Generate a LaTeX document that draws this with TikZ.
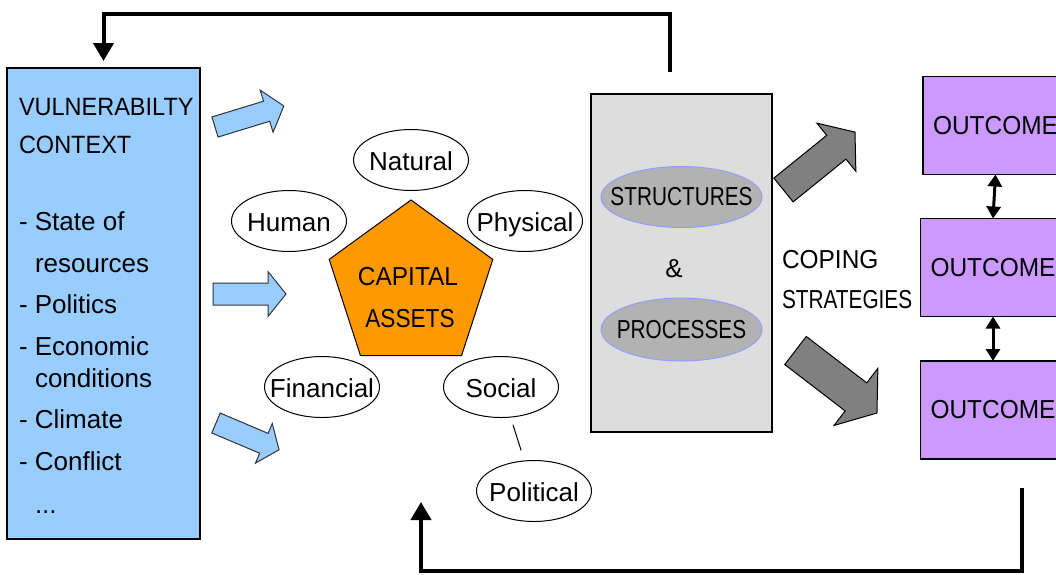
\documentclass[tikz,border=0pt]{standalone}
\usepackage{fontspec}
\setmainfont{Liberation Sans}
\newfontfamily\capsnarrow[FakeStretch=0.8]{Liberation Sans}
\newfontfamily\capsmid[FakeStretch=0.87]{Liberation Sans}
\newfontfamily\capswide[FakeStretch=0.94]{Liberation Sans}
\usetikzlibrary{shapes.geometric,arrows.meta}

\definecolor{vulnblue}{HTML}{99CCFF}
\definecolor{assetorange}{HTML}{FF9900}
\definecolor{outlilac}{HTML}{CC99FF}
\definecolor{procgrey}{HTML}{DDDDDD}
\definecolor{ovalgrey}{HTML}{B2B2B2}
\definecolor{ovalrim}{HTML}{9999FF}
\definecolor{fatgrey}{HTML}{808080}

\tikzset{
  pics/fatarrow/.style args={#1/#2/#3/#4}{code={
    \draw[pic actions] (0,-#2) -- ({#1-#4},-#2) -- ({#1-#4},-#3) -- (#1,0)
      -- ({#1-#4},#3) -- ({#1-#4},#2) -- (0,#2) -- cycle;
  }}
}

\begin{document}
\begin{tikzpicture}[x=0.5pt,y=-0.5pt,
  every node/.style={inner sep=0pt,outer sep=0pt},
  txt/.style={font=\fontsize{13pt}{15pt}\selectfont},
  narrow/.style={font=\capsnarrow\fontsize{13pt}{15pt}\selectfont},
  mid/.style={font=\capsmid\fontsize{13pt}{15pt}\selectfont},
  wide/.style={font=\capswide\fontsize{13pt}{15pt}\selectfont},
  asset/.style={ellipse,draw,line width=0.5pt,fill=white,minimum width=57.5pt,minimum height=30.5pt},
  assetlbl/.style={txt,text height=11.5pt,text depth=1.5pt},
  procoval/.style={ellipse,draw=ovalrim,line width=0.5pt,fill=ovalgrey,minimum width=80.5pt,minimum height=30.5pt},
  outcome/.style={draw,line width=0.6pt,fill=outlilac,minimum width=72.5pt,minimum height=49pt,wide},
  bluefat/.style={draw=black!80,line width=0.5pt,fill=vulnblue},
  greyfat/.style={draw=black,line width=0.5pt,fill=fatgrey},
  feedback/.style={line width=2pt,-{Triangle[width=10pt,length=9pt]}},
  link/.style={line width=1.5pt,{Triangle[width=7pt,length=6pt]}-{Triangle[width=7pt,length=6pt]}}]

\useasboundingbox (0,0) rectangle (1056,574);
\clip (0,0) rectangle (1056,574);
\fill[white] (0,0) rectangle (1056,574);

% vulnerability context
\node[draw,line width=0.6pt,fill=vulnblue,minimum width=96.5pt,minimum height=235.5pt] (vuln) at (103.5,303.5) {};
\node[font=\capswide\fontsize{12.5pt}{14pt}\selectfont,anchor=base west] (vtitle) at (19,115) {VULNERABILTY};
\node[font=\capswide\fontsize{12.5pt}{14pt}\selectfont,anchor=base west] (vcontext) at (19,153) {CONTEXT};
\node[txt,anchor=base west] (vstate) at (19,230) {- State of};
\node[txt,anchor=base west] (vres) at (35,272) {resources};
\node[txt,anchor=base west] (vpol) at (19,313) {- Politics};
\node[txt,anchor=base west] (vecon) at (19,355) {- Economic};
\node[txt,anchor=base west] (vcond) at (35,387) {conditions};
\node[txt,anchor=base west] (vclim) at (19,428) {- Climate};
\node[txt,anchor=base west] (vconf) at (19,470) {- Conflict};
\node[txt,anchor=base west] (vdots) at (35,513) {...};

% blue arrows
\pic[bluefat,rotate=17] at (215,127) {fatarrow=72/10.5/22/18};
\pic[bluefat] at (213,294) {fatarrow=73/11/22.5/18};
\pic[bluefat,rotate=-23] at (216,423) {fatarrow=68.5/10.8/21.5/16.5};

% capital assets
\node[regular polygon,regular polygon sides=5,minimum size=86pt,draw,line width=0.5pt,fill=assetorange] (assets) at (411,286) {};
\node[wide,anchor=base] (capital) at (408,285) {CAPITAL};
\node[mid,anchor=base] (assetstxt) at (410,327) {ASSETS};

\node[asset,label={[assetlbl]center:Natural}] (natural) at (411,160) {};
\node[asset,label={[assetlbl]center:Human}] (human) at (289,221) {};
\node[asset,label={[assetlbl]center:Physical}] (physical) at (525,221) {};
\node[asset,label={[assetlbl]center:Financial}] (financial) at (322,387) {};
\node[asset,label={[assetlbl]center:Social}] (social) at (501,387) {};
\node[asset,label={[assetlbl]center:Political}] (political) at (534,491) {};
\draw[line width=0.5pt,shorten <=4pt,shorten >=5.5pt] (social) -- (political);

% structures and processes
\node[draw,line width=0.6pt,fill=procgrey,minimum width=90.5pt,minimum height=169pt] (procbox) at (681.5,263) {};
\node[procoval,label={[narrow]center:STRUCTURES}] (struct) at (681.5,197) {};
\node[txt] (amp) at (674,269) {\&};
\node[procoval,minimum height=31.5pt,label={[narrow]center:PROCESSES}] (process) at (681.5,329.5) {};

\node[wide,anchor=base west] (coping) at (782,268) {COPING};
\node[narrow,anchor=base west] (strategies) at (782,308) {STRATEGIES};

% grey arrows
\pic[greyfat,rotate=39] at (783.5,190) {fatarrow=92/15.3/31/24};
\pic[greyfat,rotate=-37.5] at (795.5,350.5) {fatarrow=102.7/17.7/36/26.5};

% outcomes
\node[outcome] (out1) at (995.5,125.5) {OUTCOME};
\node[outcome] (out2) at (993,267.5) {OUTCOME};
\node[outcome] (out3) at (993,410) {OUTCOME};
\draw[link] (out1.south) -- (out2.north);
\draw[link] (out2.south) -- (out3.north);

% feedback loops
\coordinate (fbtop) at (670,72);
\coordinate (fbout) at (1022,488);
\coordinate (fbin) at (421,502);
\draw[feedback] (fbtop) -- ++(0,-58) -| ([yshift=3.5pt]vuln.north);
\draw[feedback] (fbout) -- ++(0,83) -| (fbin);
\end{tikzpicture}
\end{document}
